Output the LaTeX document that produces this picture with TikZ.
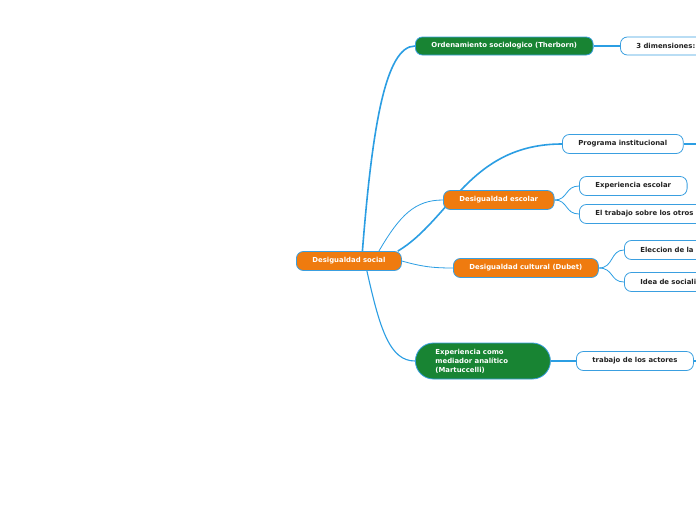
\documentclass[tikz,border=0pt]{standalone}
\usepackage{fontspec}
\newfontfamily\vfont{DejaVu Sans}
\usetikzlibrary{calc,backgrounds}
\definecolor{morange}{HTML}{EF7B0F}
\definecolor{mgreen}{HTML}{188433}
\definecolor{mblue}{HTML}{2B9EE3}
\definecolor{mborder}{HTML}{3A9FE0}
\definecolor{mtext}{HTML}{222222}
\tikzset{
  base/.style={draw=mborder, line width=0.8pt, rounded corners=7pt, anchor=west,
    minimum height=19pt, inner xsep=16pt, inner ysep=0pt,
    font=\vfont\bfseries\fontsize{6.9}{9}\selectfont},
  obox/.style={base, fill=morange, text=white},
  gbox/.style={base, fill=mgreen, text=white},
  wbox/.style={base, fill=white, text=mtext},
  cutbox/.style={wbox, text width=72pt, align=left},
  link/.style={draw=mblue, line width=0.8pt},
  thick link/.style={draw=mblue, line width=1.6pt},
}
\begin{document}
\begin{tikzpicture}[x=1pt,y=-1pt]
\useasboundingbox (0,0) rectangle (696,520);
\node[obox] (root) at (296,261) {Desigualdad social};
\node[gbox, minimum height=18pt] (orden) at (415,46) {Ordenamiento sociologico (Therborn)};
\node[cutbox, minimum height=18pt] (dim) at (620,46) {3 dimensiones:};
\node[wbox] (prog) at (562,144) {Programa institucional};
\node[obox] (esc) at (443,200) {Desigualdad escolar};
\node[wbox] (expesc) at (579,186) {Experiencia escolar};
\node[wbox] (trab) at (579,214) {El trabajo sobre los otros};
\node[obox] (cult) at (453,268) {Desigualdad cultural (Dubet)};
\node[cutbox] (elec) at (624,250) {Eleccion de la};
\node[cutbox] (idea) at (624,282) {Idea de sociali};
\node[gbox, rounded corners=18pt, minimum height=36pt, inner xsep=20pt, text width=95pt, align=left] (expm) at (415,361) {Experiencia como\\mediador analítico\\(Martuccelli)};
\node[wbox] (act) at (576,361) {trabajo de los actores};
\coordinate (progend) at (700,144);
\coordinate (actend) at (700,361);
\begin{scope}[on background layer]
\fill[white] (0,0) rectangle (696,520);
\draw[thick link] ($(root.north)+(13.5,0)$) .. controls (372,130) and (385,46) .. (orden.west);
\draw[thick link] ([xshift=-4pt]root.north east) .. controls (450,220) and (470,144) .. (prog.west);
\draw[link] ($(root.north)+(30,0)$) .. controls (400,215) and (415,200) .. (esc.west);
\draw[link] (root.east) .. controls (420,266) and (430,268) .. (cult.west);
\draw[link, line width=1.1pt] ($(root.south)+(18,0)$) .. controls (380,330) and (390,361) .. (expm.west);
\draw[link, line width=1.1pt] (orden.east) -- (dim.west);
\draw[link, line width=1.1pt] (prog.east) -- (progend);
\draw[link, line width=1.1pt] (expm.east) -- (act.west);
\draw[link, line width=1.1pt] (act.east) -- (actend);
\draw[link] (esc.east) .. controls (568,200) and (565,186) .. (expesc.west);
\draw[link] (esc.east) .. controls (568,200) and (565,214) .. (trab.west);
\draw[link] (cult.east) .. controls (614,268) and (610,250) .. (elec.west);
\draw[link] (cult.east) .. controls (614,268) and (610,282) .. (idea.west);
\end{scope}
\end{tikzpicture}
\end{document}
